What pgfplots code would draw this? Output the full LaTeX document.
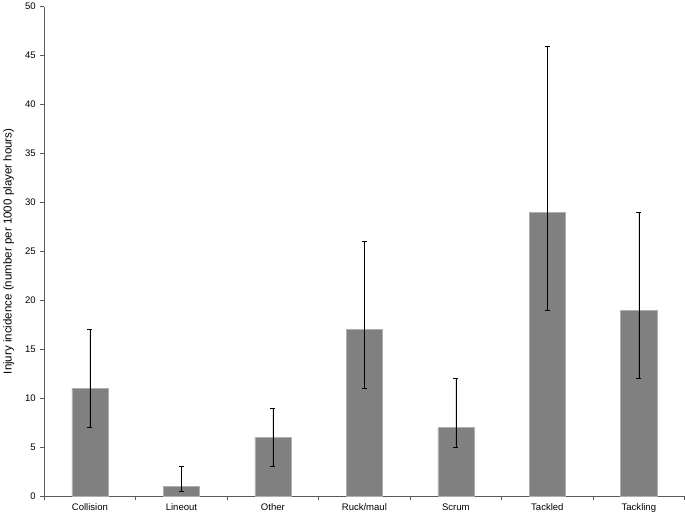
\documentclass[border=0pt]{standalone}
\usepackage{pgfplots}
\usepackage{pgfplotstable}
\pgfplotsset{compat=1.18}
\usepackage{fontspec}
\setmainfont{Liberation Sans}
\definecolor{barfill}{RGB}{128,128,128}
\definecolor{baredge}{RGB}{175,175,175}
\definecolor{axisgray}{RGB}{90,90,90}

\pgfplotstableread{
x  y   ep  em
0  11  6   4
1  1   2   0.5
2  6   3   3
3  17  9   6
4  7   5   2
5  29  17  10
6  19  10  7
}\injuries

\begin{document}
\begin{tikzpicture}
\begin{axis}[
    scale only axis,
    width=636bp, height=486bp,
    xmin=-0.5, xmax=6.5,
    ymin=0, ymax=50,
    ytick={0,5,...,50},
    xtick={0,...,6},
    xticklabels={Collision,Lineout,Other,Ruck/maul,Scrum,Tackled,Tackling},
    minor xtick={-0.5,0.5,...,6.5},
    major x tick style={draw=none},
    minor tick length=4bp,
    major tick length=4bp,
    tick align=outside,
    tick style={axisgray, line width=0.6pt},
    axis x line*=bottom,
    axis y line*=left,
    axis line style={axisgray, line width=0.8pt, -},
    tick label style={font=\fontsize{9.5}{11}\selectfont},
    /pgf/number format/assume math mode=true,
    ylabel={Injury incidence (number per 1000 player hours)},
    ylabel style={font=\fontsize{11.5}{13}\selectfont, yshift=4bp},
    yticklabel style={xshift=-1bp},
    ybar, bar width=36bp,
    clip=false,
]
\addplot[fill=barfill, draw=baredge, line width=0.5pt,
    error bars/.cd, y dir=both, y explicit,
    error bar style={black, line width=0.5pt},
    error mark options={rotate=90, mark size=2.5bp, black, line width=0.5pt}]
    table[x=x, y=y, y error plus=ep, y error minus=em] {\injuries};
\end{axis}
\end{tikzpicture}
\end{document}
